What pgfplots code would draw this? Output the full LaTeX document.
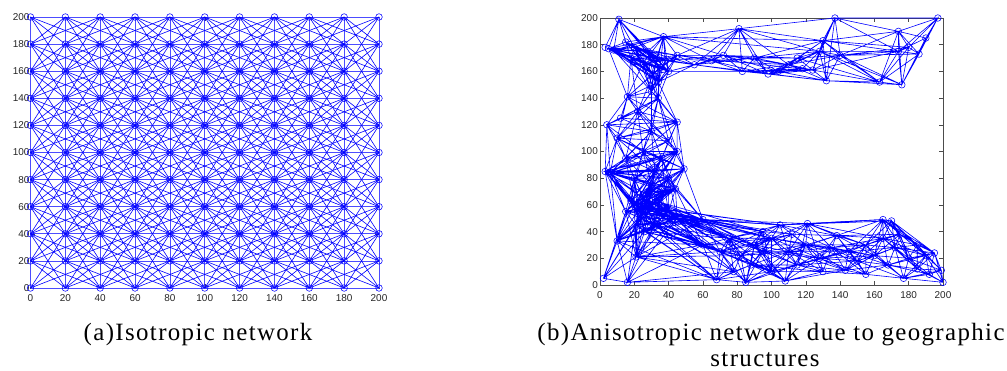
\documentclass[border=0pt]{standalone}
\usepackage{fontspec}
\setmainfont{Liberation Serif}
\newfontfamily\ticksans{Liberation Sans}
\newfontfamily\capfont[LetterSpace=5.5]{Liberation Serif}
\usepackage{pgfplots}
\pgfplotsset{compat=1.18}
\pgfplotsset{
  netaxis/.style={scale only axis, xmin=0, xmax=200, ymin=0, ymax=200,
    xtick={0,20,...,200}, ytick={0,20,...,200}, clip=false,
    axis line style={black!70, line width=0.6bp},
    tick style={black!70, line width=0.5bp}, major tick length=4bp, tick align=inside,
    /pgf/number format/assume math mode=true,
    tick label style={font=\ticksans\fontsize{10}{12}\selectfont, text=black!85},
    xticklabel style={yshift=-3bp},
    unbounded coords=jump},
  edge/.style={blue, line width=0.6bp, no marks},
  nodes/.style={only marks, mark=o, mark size=3.3bp, mark options={blue, line width=0.55bp}},
}
\begin{document}
\begin{tikzpicture}
\useasboundingbox (0,0) rectangle (1007bp,371bp);
% ---------------- (a) isotropic grid network ----------------
\begin{axis}[netaxis, at={(30.5bp,83bp)}, anchor=south west, width=348.5bp, height=271bp,
  yticklabel style={inner sep=0.8bp}]
% horizontal and vertical
\addplot[edge, blue!70] coordinates {
(0,0)(200,0)(nan,nan)(0,20)(200,20)(nan,nan)(0,40)(200,40)(nan,nan)(0,60)(200,60)(nan,nan)
(0,80)(200,80)(nan,nan)(0,100)(200,100)(nan,nan)(0,120)(200,120)(nan,nan)(0,140)(200,140)(nan,nan)
(0,160)(200,160)(nan,nan)(0,180)(200,180)(nan,nan)(0,200)(200,200)(nan,nan)
(0,0)(0,200)(nan,nan)(20,0)(20,200)(nan,nan)(40,0)(40,200)(nan,nan)(60,0)(60,200)(nan,nan)
(80,0)(80,200)(nan,nan)(100,0)(100,200)(nan,nan)(120,0)(120,200)(nan,nan)(140,0)(140,200)(nan,nan)
(160,0)(160,200)(nan,nan)(180,0)(180,200)(nan,nan)(200,0)(200,200)(nan,nan)
};
% diagonals
\addplot[edge] coordinates {
(0,0)(200,200)(nan,nan)(20,0)(200,180)(nan,nan)(40,0)(200,160)(nan,nan)(60,0)(200,140)(nan,nan)
(80,0)(200,120)(nan,nan)(100,0)(200,100)(nan,nan)(120,0)(200,80)(nan,nan)(140,0)(200,60)(nan,nan)
(160,0)(200,40)(nan,nan)(180,0)(200,20)(nan,nan)
(0,20)(180,200)(nan,nan)(0,40)(160,200)(nan,nan)(0,60)(140,200)(nan,nan)(0,80)(120,200)(nan,nan)
(0,100)(100,200)(nan,nan)(0,120)(80,200)(nan,nan)(0,140)(60,200)(nan,nan)(0,160)(40,200)(nan,nan)
(0,180)(20,200)(nan,nan)
(0,20)(20,0)(nan,nan)(0,40)(40,0)(nan,nan)(0,60)(60,0)(nan,nan)(0,80)(80,0)(nan,nan)
(0,100)(100,0)(nan,nan)(0,120)(120,0)(nan,nan)(0,140)(140,0)(nan,nan)(0,160)(160,0)(nan,nan)
(0,180)(180,0)(nan,nan)(0,200)(200,0)(nan,nan)
(20,200)(200,20)(nan,nan)(40,200)(200,40)(nan,nan)(60,200)(200,60)(nan,nan)(80,200)(200,80)(nan,nan)
(100,200)(200,100)(nan,nan)(120,200)(200,120)(nan,nan)(140,200)(200,140)(nan,nan)(160,200)(200,160)(nan,nan)
(180,200)(200,180)(nan,nan)
};
% knight links, direction (2,1)
\addplot[edge] coordinates {
(160,0)(200,20)(nan,nan)(140,0)(180,20)(nan,nan)(120,0)(200,40)(nan,nan)(100,0)(180,40)(nan,nan)
(80,0)(200,60)(nan,nan)(60,0)(180,60)(nan,nan)(40,0)(200,80)(nan,nan)(20,0)(180,80)(nan,nan)
(0,0)(200,100)(nan,nan)(20,20)(180,100)(nan,nan)(0,20)(200,120)(nan,nan)(20,40)(180,120)(nan,nan)
(0,40)(200,140)(nan,nan)(20,60)(180,140)(nan,nan)(0,60)(200,160)(nan,nan)(20,80)(180,160)(nan,nan)
(0,80)(200,180)(nan,nan)(20,100)(180,180)(nan,nan)(0,100)(200,200)(nan,nan)(20,120)(180,200)(nan,nan)
(0,120)(160,200)(nan,nan)(20,140)(140,200)(nan,nan)(0,140)(120,200)(nan,nan)(20,160)(100,200)(nan,nan)
(0,160)(80,200)(nan,nan)(20,180)(60,200)(nan,nan)(0,180)(40,200)(nan,nan)
};
% direction (1,2)
\addplot[edge] coordinates {
(0,160)(20,200)(nan,nan)(0,140)(20,180)(nan,nan)(0,120)(40,200)(nan,nan)(0,100)(40,180)(nan,nan)
(0,80)(60,200)(nan,nan)(0,60)(60,180)(nan,nan)(0,40)(80,200)(nan,nan)(0,20)(80,180)(nan,nan)
(0,0)(100,200)(nan,nan)(20,20)(100,180)(nan,nan)(20,0)(120,200)(nan,nan)(40,20)(120,180)(nan,nan)
(40,0)(140,200)(nan,nan)(60,20)(140,180)(nan,nan)(60,0)(160,200)(nan,nan)(80,20)(160,180)(nan,nan)
(80,0)(180,200)(nan,nan)(100,20)(180,180)(nan,nan)(100,0)(200,200)(nan,nan)(120,20)(200,180)(nan,nan)
(120,0)(200,160)(nan,nan)(140,20)(200,140)(nan,nan)(140,0)(200,120)(nan,nan)(160,20)(200,100)(nan,nan)
(160,0)(200,80)(nan,nan)(180,20)(200,60)(nan,nan)(180,0)(200,40)(nan,nan)
};
% direction (2,-1)
\addplot[edge] coordinates {
(160,200)(200,180)(nan,nan)(140,200)(180,180)(nan,nan)(120,200)(200,160)(nan,nan)(100,200)(180,160)(nan,nan)
(80,200)(200,140)(nan,nan)(60,200)(180,140)(nan,nan)(40,200)(200,120)(nan,nan)(20,200)(180,120)(nan,nan)
(0,200)(200,100)(nan,nan)(20,180)(180,100)(nan,nan)(0,180)(200,80)(nan,nan)(20,160)(180,80)(nan,nan)
(0,160)(200,60)(nan,nan)(20,140)(180,60)(nan,nan)(0,140)(200,40)(nan,nan)(20,120)(180,40)(nan,nan)
(0,120)(200,20)(nan,nan)(20,100)(180,20)(nan,nan)(0,100)(200,0)(nan,nan)(20,80)(180,0)(nan,nan)
(0,80)(160,0)(nan,nan)(20,60)(140,0)(nan,nan)(0,60)(120,0)(nan,nan)(20,40)(100,0)(nan,nan)
(0,40)(80,0)(nan,nan)(20,20)(60,0)(nan,nan)(0,20)(40,0)(nan,nan)
};
% direction (1,-2)
\addplot[edge] coordinates {
(0,40)(20,0)(nan,nan)(0,60)(20,20)(nan,nan)(0,80)(40,0)(nan,nan)(0,100)(40,20)(nan,nan)
(0,120)(60,0)(nan,nan)(0,140)(60,20)(nan,nan)(0,160)(80,0)(nan,nan)(0,180)(80,20)(nan,nan)
(0,200)(100,0)(nan,nan)(20,180)(100,20)(nan,nan)(20,200)(120,0)(nan,nan)(40,180)(120,20)(nan,nan)
(40,200)(140,0)(nan,nan)(60,180)(140,20)(nan,nan)(60,200)(160,0)(nan,nan)(80,180)(160,20)(nan,nan)
(80,200)(180,0)(nan,nan)(100,180)(180,20)(nan,nan)(100,200)(200,0)(nan,nan)(120,180)(200,20)(nan,nan)
(120,200)(200,40)(nan,nan)(140,180)(200,60)(nan,nan)(140,200)(200,80)(nan,nan)(160,180)(200,100)(nan,nan)
(160,200)(200,120)(nan,nan)(180,180)(200,140)(nan,nan)(180,200)(200,160)(nan,nan)
};
% grid nodes
\addplot[nodes] coordinates {
(0,0)(20,0)(40,0)(60,0)(80,0)(100,0)(120,0)(140,0)(160,0)(180,0)(200,0)
(0,20)(20,20)(40,20)(60,20)(80,20)(100,20)(120,20)(140,20)(160,20)(180,20)(200,20)
(0,40)(20,40)(40,40)(60,40)(80,40)(100,40)(120,40)(140,40)(160,40)(180,40)(200,40)
(0,60)(20,60)(40,60)(60,60)(80,60)(100,60)(120,60)(140,60)(160,60)(180,60)(200,60)
(0,80)(20,80)(40,80)(60,80)(80,80)(100,80)(120,80)(140,80)(160,80)(180,80)(200,80)
(0,100)(20,100)(40,100)(60,100)(80,100)(100,100)(120,100)(140,100)(160,100)(180,100)(200,100)
(0,120)(20,120)(40,120)(60,120)(80,120)(100,120)(120,120)(140,120)(160,120)(180,120)(200,120)
(0,140)(20,140)(40,140)(60,140)(80,140)(100,140)(120,140)(140,140)(160,140)(180,140)(200,140)
(0,160)(20,160)(40,160)(60,160)(80,160)(100,160)(120,160)(140,160)(160,160)(180,160)(200,160)
(0,180)(20,180)(40,180)(60,180)(80,180)(100,180)(120,180)(140,180)(160,180)(180,180)(200,180)
(0,200)(20,200)(40,200)(60,200)(80,200)(100,200)(120,200)(140,200)(160,200)(180,200)(200,200)
};
\end{axis}
% ---------------- (b) anisotropic network ----------------
\begin{axis}[netaxis, at={(600bp,86bp)}, anchor=south west, width=343bp, height=267bp,
  yticklabel style={inner sep=2bp}]
% top-left cluster
\addplot[edge] coordinates {
(11,199)(37,186)(11,199)(5,177)(11,199)(3,178)(11,199)(8,176)(11,199)(15,182)(11,199)(20,178)(11,199)(28,175)(11,199)(33,170)(11,199)(35,163)(11,199)(25,166)(11,199)(18,170)(nan,nan)
(37,186)(5,177)(37,186)(8,176)(37,186)(15,182)(37,186)(20,178)(37,186)(28,175)(37,186)(33,170)(37,186)(35,163)(37,186)(31,158)(37,186)(38,168)(37,186)(25,166)(37,186)(40,160)(37,186)(45,172)(37,186)(81,192)(37,186)(72,172)(37,186)(65,168)(37,186)(130,183)(37,186)(128,175)(nan,nan)
(5,177)(3,178)(5,177)(8,176)(5,177)(15,182)(5,177)(20,178)(5,177)(28,175)(5,177)(33,170)(5,177)(35,163)(5,177)(31,158)(5,177)(25,166)(5,177)(18,170)(5,177)(34,152)(5,177)(16,141)(nan,nan)
(8,176)(20,178)(8,176)(28,175)(8,176)(33,170)(8,176)(35,163)(8,176)(31,158)(8,176)(38,168)(8,176)(25,166)(8,176)(18,170)(8,176)(34,152)(8,176)(30,145)(8,176)(40,160)(nan,nan)
(15,182)(28,175)(15,182)(33,170)(15,182)(35,163)(15,182)(31,158)(15,182)(38,168)(15,182)(25,166)(15,182)(18,170)(15,182)(40,160)(nan,nan)
(20,178)(33,170)(20,178)(35,163)(20,178)(31,158)(20,178)(38,168)(20,178)(25,166)(20,178)(18,170)(20,178)(34,152)(20,178)(30,145)(20,178)(40,160)(20,178)(45,172)(nan,nan)
(28,175)(35,163)(28,175)(31,158)(28,175)(38,168)(28,175)(18,170)(28,175)(34,152)(28,175)(30,145)(28,175)(40,160)(28,175)(45,172)(28,175)(55,165)(nan,nan)
(33,170)(31,158)(33,170)(25,166)(33,170)(18,170)(33,170)(34,152)(33,170)(30,145)(33,170)(40,160)(33,170)(45,172)(33,170)(65,168)(33,170)(55,165)(nan,nan)
(35,163)(25,166)(35,163)(18,170)(35,163)(34,152)(35,163)(30,145)(35,163)(40,160)(35,163)(45,172)(35,163)(34,140)(35,163)(16,141)(nan,nan)
(31,158)(25,166)(31,158)(18,170)(31,158)(34,152)(31,158)(30,145)(31,158)(40,160)(31,158)(45,172)(31,158)(16,141)(31,158)(34,140)(31,158)(22,130)(nan,nan)
(38,168)(25,166)(38,168)(18,170)(38,168)(34,152)(38,168)(30,145)(38,168)(40,160)(38,168)(45,172)(38,168)(55,165)(38,168)(72,172)(nan,nan)
(25,166)(18,170)(25,166)(34,152)(25,166)(30,145)(25,166)(40,160)(25,166)(16,141)(25,166)(34,140)(nan,nan)
(18,170)(34,152)(18,170)(30,145)(18,170)(40,160)(18,170)(16,141)(18,170)(22,130)(nan,nan)
(34,152)(30,145)(34,152)(40,160)(34,152)(45,172)(34,152)(16,141)(34,152)(22,130)(34,152)(34,140)(34,152)(55,165)(34,152)(45,122)(nan,nan)
(30,145)(40,160)(30,145)(16,141)(30,145)(22,130)(30,145)(34,140)(30,145)(45,122)(30,145)(30,115)(nan,nan)
(40,160)(45,172)(40,160)(34,140)(40,160)(55,165)(40,160)(65,168)(40,160)(83,160)(nan,nan)
(45,172)(55,165)(45,172)(65,168)(45,172)(72,172)(45,172)(81,192)(45,172)(124,161)(nan,nan)
};
% top bar
\addplot[edge] coordinates {
(81,192)(72,172)(81,192)(83,160)(81,192)(98,158)(81,192)(65,168)(81,192)(55,165)(81,192)(90,170)(81,192)(110,165)(81,192)(130,183)(81,192)(137,200)(81,192)(128,175)(nan,nan)
(72,172)(83,160)(72,172)(98,158)(72,172)(104,160)(72,172)(65,168)(72,172)(55,165)(72,172)(90,170)(72,172)(110,165)(72,172)(115,170)(nan,nan)
(83,160)(98,158)(83,160)(104,160)(83,160)(65,168)(83,160)(55,165)(83,160)(90,170)(83,160)(110,165)(83,160)(124,161)(83,160)(118,162)(nan,nan)
(98,158)(104,160)(98,158)(65,168)(98,158)(90,170)(98,158)(110,165)(98,158)(115,170)(98,158)(124,161)(98,158)(132,153)(98,158)(118,162)(nan,nan)
(104,160)(90,170)(104,160)(110,165)(104,160)(115,170)(104,160)(124,161)(104,160)(132,153)(104,160)(130,183)(104,160)(128,175)(104,160)(118,162)(nan,nan)
(65,168)(55,165)(65,168)(90,170)(65,168)(110,165)(nan,nan)
(55,165)(90,170)(55,165)(132,153)(nan,nan)
(90,170)(110,165)(90,170)(115,170)(90,170)(124,161)(90,170)(130,183)(90,170)(128,175)(nan,nan)
(110,165)(115,170)(110,165)(124,161)(110,165)(132,153)(110,165)(130,183)(110,165)(128,175)(110,165)(140,172)(110,165)(118,162)(nan,nan)
(115,170)(124,161)(115,170)(132,153)(115,170)(130,183)(115,170)(128,175)(115,170)(140,172)(115,170)(163,152)(nan,nan)
(124,161)(132,153)(124,161)(130,183)(124,161)(137,200)(124,161)(128,175)(124,161)(140,172)(124,161)(163,152)(124,161)(174,175)(124,161)(118,162)(nan,nan)
(132,153)(130,183)(132,153)(128,175)(132,153)(140,172)(132,153)(163,152)(132,153)(176,150)(nan,nan)
(130,183)(137,200)(130,183)(128,175)(130,183)(140,172)(130,183)(163,152)(130,183)(174,175)(130,183)(174,190)(130,183)(180,178)(nan,nan)
(137,200)(128,175)(137,200)(140,172)(137,200)(174,175)(137,200)(174,190)(137,200)(132,153)(137,200)(197,200)(nan,nan)
(128,175)(140,172)(128,175)(163,152)(128,175)(176,150)(128,175)(174,175)(128,175)(118,162)(nan,nan)
(140,172)(163,152)(140,172)(176,150)(140,172)(174,175)(140,172)(174,190)(140,172)(186,173)(140,172)(180,178)(nan,nan)
(163,152)(176,150)(163,152)(174,175)(163,152)(174,190)(163,152)(186,173)(163,152)(180,178)(nan,nan)
(176,150)(174,175)(176,150)(174,190)(176,150)(186,173)(176,150)(197,200)(176,150)(190,185)(176,150)(180,178)(nan,nan)
(174,175)(174,190)(174,175)(186,173)(174,175)(197,200)(174,175)(190,185)(174,175)(180,178)(nan,nan)
(174,190)(186,173)(174,190)(197,200)(174,190)(190,185)(174,190)(180,178)(nan,nan)
(186,173)(197,200)(186,173)(190,185)(186,173)(180,178)(nan,nan)
(197,200)(190,185)(197,200)(180,178)(nan,nan)
};
% left column
\addplot[edge] coordinates {
(16,141)(22,130)(16,141)(45,122)(16,141)(4,120)(16,141)(10,110)(16,141)(34,140)(16,141)(30,115)(16,141)(12,125)(16,141)(40,108)(nan,nan)
(22,130)(45,122)(22,130)(4,120)(22,130)(10,110)(22,130)(34,140)(22,130)(25,100)(22,130)(15,95)(22,130)(30,115)(22,130)(12,125)(22,130)(40,108)(nan,nan)
(45,122)(4,120)(45,122)(10,110)(45,122)(34,140)(45,122)(36,95)(45,122)(45,100)(45,122)(25,100)(45,122)(30,115)(45,122)(12,125)(45,122)(40,108)(45,122)(49,87)(nan,nan)
(4,120)(10,110)(4,120)(34,140)(4,120)(3,85)(4,120)(6,84)(4,120)(25,100)(4,120)(15,95)(4,120)(30,115)(4,120)(12,125)(nan,nan)
(10,110)(34,140)(10,110)(36,95)(10,110)(3,85)(10,110)(6,84)(10,110)(25,100)(10,110)(15,95)(10,110)(30,115)(10,110)(20,80)(10,110)(32,85)(10,110)(40,108)(nan,nan)
(34,140)(25,100)(34,140)(30,115)(34,140)(12,125)(34,140)(40,108)(34,140)(45,100)(nan,nan)
(36,95)(45,100)(36,95)(49,87)(36,95)(3,85)(36,95)(6,84)(36,95)(25,100)(36,95)(15,95)(36,95)(30,115)(36,95)(40,80)(36,95)(30,75)(36,95)(38,70)(36,95)(20,80)(36,95)(44,72)(36,95)(32,85)(36,95)(40,108)(nan,nan)
(45,100)(49,87)(45,100)(3,85)(45,100)(6,84)(45,100)(25,100)(45,100)(15,95)(45,100)(30,115)(45,100)(40,80)(45,100)(30,75)(45,100)(20,80)(45,100)(32,85)(45,100)(40,108)(nan,nan)
(49,87)(3,85)(49,87)(6,84)(49,87)(25,100)(49,87)(40,80)(49,87)(30,75)(49,87)(38,70)(49,87)(44,72)(49,87)(32,85)(49,87)(40,108)(nan,nan)
(3,85)(6,84)(3,85)(25,100)(3,85)(15,95)(3,85)(40,80)(3,85)(30,75)(3,85)(38,70)(3,85)(20,80)(3,85)(44,72)(3,85)(32,85)(nan,nan)
(6,84)(25,100)(6,84)(15,95)(6,84)(30,115)(6,84)(40,80)(6,84)(30,75)(6,84)(20,80)(6,84)(32,85)(6,84)(40,108)(nan,nan)
(25,100)(15,95)(25,100)(30,115)(25,100)(40,80)(25,100)(30,75)(25,100)(20,80)(25,100)(32,85)(25,100)(40,108)(nan,nan)
(15,95)(30,115)(15,95)(30,75)(15,95)(20,80)(15,95)(32,85)(nan,nan)
(30,115)(12,125)(30,115)(40,108)(30,115)(32,85)(nan,nan)
(40,80)(30,75)(40,80)(38,70)(40,80)(20,80)(40,80)(44,72)(40,80)(32,85)(nan,nan)
(30,75)(38,70)(30,75)(20,80)(30,75)(44,72)(30,75)(32,85)(nan,nan)
(38,70)(20,80)(38,70)(44,72)(38,70)(32,85)(nan,nan)
(20,80)(44,72)(20,80)(32,85)(nan,nan)
(44,72)(32,85)(nan,nan)
};
% lower-left cluster
\addplot[edge] coordinates {
(20,60)(3,85)(20,60)(6,84)(20,60)(15,95)(20,60)(40,80)(20,60)(30,75)(20,60)(38,70)(20,60)(20,80)(20,60)(44,72)(20,60)(32,85)(20,60)(36,95)(20,60)(49,87)(20,60)(25,65)(20,60)(28,58)(20,60)(30,70)(20,60)(35,62)(20,60)(40,55)(20,60)(45,50)(20,60)(32,45)(20,60)(10,33)(20,60)(21,21)(20,60)(60,49)(20,60)(60,30)(20,60)(75,35)(20,60)(105,45)(nan,nan)
(22,55)(3,85)(22,55)(6,84)(22,55)(40,80)(22,55)(30,75)(22,55)(38,70)(22,55)(20,80)(22,55)(44,72)(22,55)(32,85)(22,55)(36,95)(22,55)(45,100)(22,55)(18,63)(22,55)(30,70)(22,55)(35,62)(22,55)(40,55)(22,55)(45,50)(22,55)(21,45)(22,55)(10,33)(22,55)(21,21)(22,55)(16,2)(22,55)(60,49)(22,55)(60,30)(22,55)(70,25)(22,55)(75,35)(22,55)(95,40)(nan,nan)
(18,63)(3,85)(18,63)(6,84)(18,63)(25,100)(18,63)(30,75)(18,63)(20,80)(18,63)(32,85)(18,63)(36,95)(18,63)(28,58)(18,63)(35,62)(18,63)(40,55)(18,63)(45,50)(18,63)(32,45)(18,63)(26,40)(18,63)(10,33)(nan,nan)
(25,65)(3,85)(25,65)(6,84)(25,65)(40,80)(25,65)(30,75)(25,65)(38,70)(25,65)(20,80)(25,65)(44,72)(25,65)(49,87)(25,65)(45,100)(25,65)(24,50)(25,65)(15,55)(25,65)(21,45)(25,65)(40,55)(25,65)(45,50)(25,65)(32,45)(25,65)(60,49)(25,65)(60,30)(25,65)(75,35)(nan,nan)
(28,58)(40,80)(28,58)(30,75)(28,58)(38,70)(28,58)(20,80)(28,58)(44,72)(28,58)(32,85)(28,58)(49,87)(28,58)(30,70)(28,58)(15,55)(28,58)(21,45)(28,58)(10,33)(28,58)(21,21)(28,58)(32,45)(28,58)(26,40)(28,58)(60,49)(28,58)(60,30)(28,58)(70,25)(28,58)(75,35)(28,58)(105,45)(28,58)(100,35)(nan,nan)
(24,50)(30,75)(24,50)(20,80)(24,50)(6,84)(24,50)(30,70)(24,50)(35,62)(24,50)(15,55)(24,50)(10,33)(24,50)(21,21)(24,50)(2,5)(24,50)(40,55)(24,50)(45,50)(24,50)(26,40)(24,50)(60,49)(24,50)(60,30)(24,50)(70,25)(24,50)(68,4)(24,50)(78,10)(nan,nan)
(30,70)(40,80)(30,70)(38,70)(30,70)(44,72)(30,70)(32,85)(30,70)(35,62)(30,70)(15,55)(30,70)(21,45)(30,70)(40,55)(30,70)(45,50)(30,70)(32,45)(30,70)(26,40)(nan,nan)
(35,62)(49,87)(35,62)(40,80)(35,62)(38,70)(35,62)(44,72)(35,62)(15,55)(35,62)(21,45)(35,62)(40,55)(35,62)(45,50)(35,62)(32,45)(35,62)(26,40)(35,62)(60,49)(35,62)(60,30)(35,62)(75,35)(35,62)(95,40)(nan,nan)
(15,55)(3,85)(15,55)(6,84)(15,55)(30,75)(15,55)(20,80)(15,55)(21,45)(15,55)(10,33)(15,55)(21,21)(15,55)(2,5)(15,55)(40,55)(15,55)(45,50)(15,55)(32,45)(nan,nan)
(21,45)(10,33)(21,45)(21,21)(21,45)(2,5)(21,45)(16,2)(21,45)(40,55)(21,45)(45,50)(21,45)(32,45)(21,45)(26,40)(21,45)(30,75)(21,45)(38,70)(21,45)(60,49)(21,45)(60,30)(21,45)(70,25)(21,45)(68,4)(nan,nan)
(10,33)(21,21)(10,33)(2,5)(10,33)(16,2)(10,33)(40,55)(10,33)(45,50)(10,33)(32,45)(10,33)(26,40)(10,33)(3,85)(10,33)(6,84)(10,33)(60,30)(10,33)(68,4)(nan,nan)
(21,21)(2,5)(21,21)(16,2)(21,21)(40,55)(21,21)(45,50)(21,21)(32,45)(21,21)(26,40)(21,21)(60,49)(21,21)(60,30)(21,21)(70,25)(21,21)(68,4)(21,21)(78,10)(21,21)(82,22)(nan,nan)
(2,5)(16,2)(2,5)(26,40)(nan,nan)
(16,2)(45,50)(16,2)(32,45)(16,2)(26,40)(16,2)(68,4)(16,2)(78,10)(16,2)(60,30)(nan,nan)
(40,55)(45,50)(40,55)(32,45)(40,55)(26,40)(40,55)(40,80)(40,55)(38,70)(40,55)(44,72)(40,55)(60,49)(40,55)(60,30)(40,55)(70,25)(40,55)(75,35)(40,55)(82,22)(40,55)(90,30)(40,55)(100,35)(40,55)(95,40)(nan,nan)
(45,50)(32,45)(45,50)(26,40)(45,50)(40,80)(45,50)(44,72)(45,50)(60,49)(45,50)(60,30)(45,50)(70,25)(45,50)(75,35)(45,50)(82,22)(45,50)(90,30)(45,50)(95,25)(45,50)(100,35)(45,50)(95,40)(45,50)(105,45)(nan,nan)
(32,45)(26,40)(32,45)(60,49)(32,45)(60,30)(32,45)(70,25)(32,45)(75,35)(32,45)(68,4)(32,45)(78,10)(nan,nan)
(26,40)(60,49)(26,40)(60,30)(26,40)(70,25)(26,40)(75,35)(26,40)(68,4)(nan,nan)
(23,58)(3,85)(23,58)(6,84)(23,58)(30,75)(23,58)(44,72)(23,58)(25,65)(23,58)(28,58)(23,58)(35,62)(23,58)(40,55)(23,58)(45,50)(23,58)(27,68)(nan,nan)
(27,68)(3,85)(27,68)(40,80)(27,68)(30,75)(27,68)(38,70)(27,68)(44,72)(27,68)(40,55)(27,68)(45,50)(27,68)(15,55)(nan,nan)
(49,87)(60,49)(nan,nan)(40,80)(60,49)(nan,nan)(44,72)(60,49)(44,72)(60,30)(nan,nan)
};
% bottom bar, west part
\addplot[edge] coordinates {
(60,49)(60,30)(60,49)(70,25)(60,49)(75,35)(60,49)(82,22)(60,49)(90,30)(60,49)(95,25)(60,49)(100,35)(60,49)(105,45)(60,49)(95,40)(60,49)(112,38)(60,49)(121,46)(nan,nan)
(68,4)(85,2)(68,4)(60,30)(68,4)(70,25)(68,4)(75,35)(68,4)(82,22)(68,4)(88,15)(68,4)(78,10)(68,4)(100,10)(nan,nan)
(85,2)(60,30)(85,2)(70,25)(85,2)(75,35)(85,2)(82,22)(85,2)(90,30)(85,2)(88,15)(85,2)(95,25)(85,2)(100,10)(85,2)(108,3)(85,2)(78,10)(85,2)(110,25)(85,2)(115,15)(nan,nan)
(60,30)(70,25)(60,30)(75,35)(60,30)(82,22)(60,30)(90,30)(60,30)(88,15)(60,30)(78,10)(60,30)(100,35)(nan,nan)
(70,25)(75,35)(70,25)(82,22)(70,25)(90,30)(70,25)(88,15)(70,25)(95,25)(70,25)(100,35)(70,25)(100,10)(70,25)(78,10)(70,25)(95,40)(nan,nan)
(75,35)(82,22)(75,35)(90,30)(75,35)(88,15)(75,35)(95,25)(75,35)(100,35)(75,35)(100,10)(75,35)(105,45)(75,35)(95,40)(75,35)(78,10)(nan,nan)
(82,22)(90,30)(82,22)(88,15)(82,22)(95,25)(82,22)(100,35)(82,22)(100,10)(82,22)(105,45)(82,22)(108,3)(82,22)(110,25)(82,22)(95,40)(82,22)(78,10)(nan,nan)
(90,30)(88,15)(90,30)(95,25)(90,30)(100,35)(90,30)(100,10)(90,30)(105,45)(90,30)(108,3)(90,30)(110,25)(90,30)(115,15)(90,30)(120,30)(90,30)(95,40)(90,30)(112,38)(nan,nan)
(88,15)(95,25)(88,15)(100,35)(88,15)(100,10)(88,15)(108,3)(88,15)(110,25)(88,15)(115,15)(88,15)(78,10)(88,15)(130,10)(nan,nan)
(95,25)(100,35)(95,25)(100,10)(95,25)(105,45)(95,25)(108,3)(95,25)(110,25)(95,25)(115,15)(95,25)(120,30)(95,25)(95,40)(95,25)(112,38)(95,25)(128,20)(nan,nan)
(100,35)(100,10)(100,35)(105,45)(100,35)(110,25)(100,35)(115,15)(100,35)(121,46)(100,35)(120,30)(100,35)(95,40)(100,35)(112,38)(100,35)(128,20)(100,35)(135,28)(nan,nan)
(100,10)(108,3)(100,10)(110,25)(100,10)(115,15)(100,10)(120,30)(100,10)(128,20)(100,10)(130,10)(100,10)(95,40)(nan,nan)
(105,45)(110,25)(105,45)(121,46)(105,45)(120,30)(105,45)(95,40)(105,45)(112,38)(105,45)(135,28)(105,45)(138,37)(105,45)(165,49)(nan,nan)
(108,3)(110,25)(108,3)(115,15)(108,3)(128,20)(108,3)(130,10)(108,3)(143,11)(108,3)(120,30)(nan,nan)
(110,25)(115,15)(110,25)(121,46)(110,25)(120,30)(110,25)(128,20)(110,25)(135,28)(110,25)(130,10)(110,25)(95,40)(110,25)(112,38)(110,25)(138,37)(110,25)(143,11)(110,25)(145,25)(nan,nan)
(115,15)(121,46)(115,15)(120,30)(115,15)(128,20)(115,15)(135,28)(115,15)(130,10)(115,15)(143,11)(115,15)(145,25)(115,15)(150,18)(nan,nan)
};
% bottom bar, east part
\addplot[edge] coordinates {
(121,46)(120,30)(121,46)(128,20)(121,46)(135,28)(121,46)(138,37)(121,46)(112,38)(121,46)(155,30)(121,46)(165,49)(121,46)(165,35)(nan,nan)
(120,30)(128,20)(120,30)(135,28)(120,30)(138,37)(120,30)(143,11)(120,30)(145,25)(120,30)(150,18)(120,30)(130,10)(120,30)(112,38)(120,30)(155,30)(nan,nan)
(128,20)(135,28)(128,20)(138,37)(128,20)(143,11)(128,20)(145,25)(128,20)(150,18)(128,20)(155,30)(128,20)(130,10)(128,20)(155,8)(128,20)(160,22)(nan,nan)
(135,28)(138,37)(135,28)(143,11)(135,28)(145,25)(135,28)(150,18)(135,28)(155,30)(135,28)(160,22)(135,28)(165,35)(135,28)(130,10)(135,28)(155,8)(nan,nan)
(138,37)(145,25)(138,37)(150,18)(138,37)(155,30)(138,37)(160,22)(138,37)(165,49)(138,37)(165,35)(138,37)(112,38)(138,37)(175,38)(nan,nan)
(143,11)(145,25)(143,11)(150,18)(143,11)(155,30)(143,11)(160,22)(143,11)(168,15)(143,11)(130,10)(143,11)(155,8)(nan,nan)
(145,25)(150,18)(145,25)(155,30)(145,25)(160,22)(145,25)(165,49)(145,25)(165,35)(145,25)(168,15)(145,25)(172,28)(145,25)(155,8)(nan,nan)
(150,18)(155,30)(150,18)(160,22)(150,18)(165,35)(150,18)(168,15)(150,18)(172,28)(150,18)(155,8)(150,18)(177,5)(nan,nan)
(155,30)(160,22)(155,30)(165,49)(155,30)(170,48)(155,30)(165,35)(155,30)(168,15)(155,30)(172,28)(155,30)(175,38)(155,30)(155,8)(nan,nan)
(160,22)(165,49)(160,22)(170,48)(160,22)(165,35)(160,22)(168,15)(160,22)(172,28)(160,22)(177,5)(160,22)(180,20)(160,22)(155,8)(160,22)(175,38)(nan,nan)
(165,49)(170,48)(165,49)(165,35)(165,49)(172,28)(165,49)(180,20)(165,49)(190,22)(165,49)(175,38)(165,49)(185,30)(165,49)(195,24)(nan,nan)
(170,48)(165,35)(170,48)(172,28)(170,48)(180,20)(170,48)(190,22)(170,48)(195,24)(170,48)(175,38)(170,48)(185,30)(170,48)(185,12)(nan,nan)
(165,35)(168,15)(165,35)(172,28)(165,35)(180,20)(165,35)(185,12)(165,35)(190,22)(165,35)(175,38)(165,35)(185,30)(nan,nan)
(168,15)(172,28)(168,15)(177,5)(168,15)(180,20)(168,15)(185,12)(168,15)(190,22)(168,15)(192,8)(168,15)(155,8)(168,15)(175,38)(nan,nan)
(172,28)(177,5)(172,28)(180,20)(172,28)(185,12)(172,28)(190,22)(172,28)(195,24)(172,28)(192,8)(172,28)(175,38)(172,28)(185,30)(nan,nan)
(177,5)(180,20)(177,5)(185,12)(177,5)(190,22)(177,5)(199,11)(177,5)(200,2)(177,5)(192,8)(177,5)(155,8)(nan,nan)
(180,20)(185,12)(180,20)(190,22)(180,20)(195,24)(180,20)(199,11)(180,20)(192,8)(180,20)(175,38)(180,20)(185,30)(nan,nan)
(185,12)(190,22)(185,12)(195,24)(185,12)(199,11)(185,12)(200,2)(185,12)(192,8)(185,12)(185,30)(nan,nan)
(190,22)(195,24)(190,22)(199,11)(190,22)(200,2)(190,22)(192,8)(190,22)(175,38)(190,22)(185,30)(nan,nan)
(195,24)(199,11)(195,24)(200,2)(195,24)(192,8)(195,24)(185,30)(195,24)(175,38)(nan,nan)
(199,11)(200,2)(199,11)(192,8)(199,11)(185,30)(nan,nan)
(200,2)(192,8)(nan,nan)(130,10)(155,8)(nan,nan)(95,40)(112,38)(nan,nan)(175,38)(185,30)(nan,nan)
(105,45)(170,48)(nan,nan)(121,46)(170,48)(nan,nan)
};
% sensor nodes
\addplot[nodes] coordinates {
(11,199)(37,186)(5,177)(3,178)(8,176)(15,182)(20,178)(28,175)(33,170)(35,163)(31,158)(38,168)(25,166)(18,170)(34,152)(30,145)(40,160)(45,172)
(81,192)(72,172)(83,160)(98,158)(104,160)(65,168)(55,165)(90,170)(110,165)(115,170)(124,161)(132,153)(130,183)(137,200)(128,175)(140,172)(163,152)(176,150)(174,175)(174,190)(186,173)(197,200)(190,185)(180,178)(118,162)
(16,141)(22,130)(45,122)(4,120)(10,110)(34,140)(36,95)(45,100)(49,87)(3,85)(6,84)(25,100)(15,95)(30,115)(40,80)(30,75)(38,70)(20,80)(44,72)(32,85)(12,125)(40,108)
(20,60)(22,55)(18,63)(25,65)(28,58)(24,50)(30,70)(35,62)(15,55)(21,45)(10,33)(21,21)(2,5)(16,2)(40,55)(45,50)(32,45)(26,40)(23,58)(27,68)
(60,49)(68,4)(85,2)(60,30)(70,25)(75,35)(82,22)(90,30)(88,15)(95,25)(100,35)(100,10)(105,45)(108,3)(110,25)(115,15)(121,46)(120,30)(128,20)(135,28)(138,37)(143,11)(145,25)(150,18)(155,30)(160,22)(165,49)(170,48)(165,35)(168,15)(172,28)(177,5)(180,20)(185,12)(190,22)(195,24)(199,11)(200,2)(192,8)(130,10)(95,40)(78,10)(155,8)(112,38)(175,38)(185,30)
};
\end{axis}
% captions
\node[anchor=base, inner sep=0pt, font=\capfont\fontsize{25}{28}\selectfont] at (198bp,31bp) {(a)Isotropic network};
\node[anchor=base, inner sep=0pt, font=\capfont\fontsize{25}{28}\selectfont] at (771bp,31bp) {(b)Anisotropic network due to geographic};
\node[anchor=base, inner sep=0pt, font=\capfont\fontsize{25}{28}\selectfont] at (765bp,5bp) {structures};
\end{tikzpicture}
\end{document}
